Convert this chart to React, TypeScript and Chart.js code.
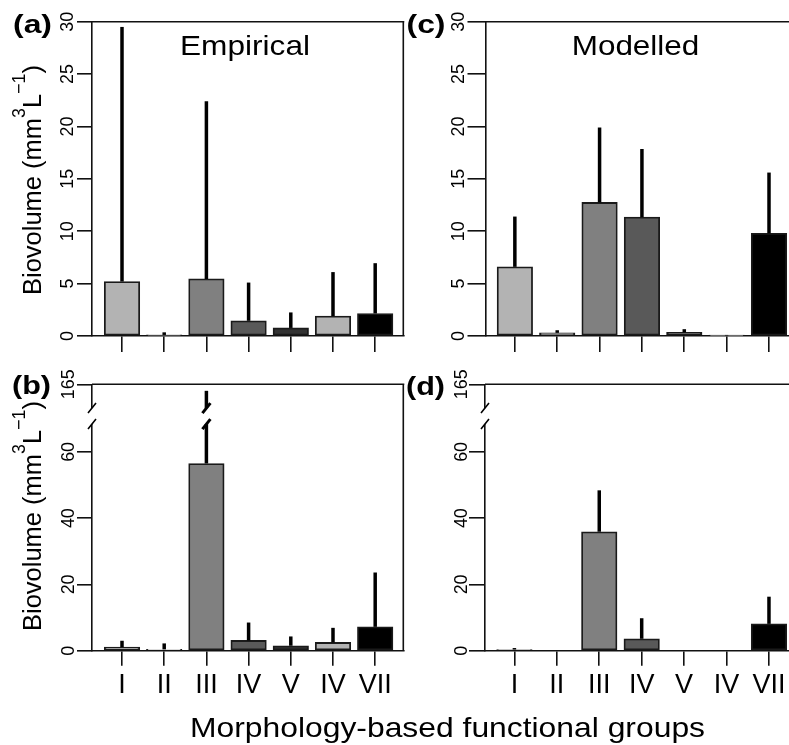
import React, { useEffect, useRef } from 'react';
import { Chart, registerables } from 'chart.js';

Chart.register(...registerables);

const W = 789;
const H = 745;
const FONT = '"Liberation Sans", Arial, Helvetica, sans-serif';

// ---------- data ----------
const groups = ['I', 'II', 'III', 'IV', 'V', 'IV', 'VII'];
const groupPositions = [1, 2, 3, 4, 5, 6, 7];
const barColors = ['#b3b3b3', '#e6e6e6', '#808080', '#595959', '#333333', '#b3b3b3', '#000000'];

// (a) Empirical, upper row
const empiricalTopMean = [5.2, 0.1, 5.45, 1.45, 0.77, 1.9, 2.15];
const empiricalTopUpper = [29.5, 0.35, 22.4, 5.1, 2.25, 6.1, 6.95];
// (c) Modelled, upper row
const modelledTopMean = [6.6, 0.3, 12.75, 11.35, 0.35, 0.05, 9.8];
const modelledTopUpper = [11.4, 0.55, 19.9, 17.85, 0.65, 0.1, 15.6];
// (b) Empirical, lower row
const empiricalBottomMean = [1.1, 0.4, 56.5, 3.1, 1.5, 2.5, 7.2];
const empiricalBottomUpper = [3.0, 2.2, 147, 8.5, 4.3, 6.9, 23.6];
// (d) Modelled, lower row
const modelledBottomMean = [0.35, 0, 35.9, 3.6, 0, 0, 8.1];
const modelledBottomUpper = [0.8, 0, 48.4, 9.8, 0, 0, 16.3];

const topTickValues = [0, 5, 10, 15, 20, 25, 30];
const topTickLabels = ['0', '5', '10', '15', '20', '25', '30'];
const bottomTickValues = [0, 20, 40, 60, 165];
const bottomTickLabels = ['0', '20', '40', '60', '165'];

// broken axis: linear up to BREAK_FROM, compressed above it
const BREAK_FROM = 70;
const BREAK_TOP = 165;
const DISPLAY_TOP = 80.4;
const BREAK_MARK = 70.8;

const toDisplay = (v: number) =>
  v <= BREAK_FROM ? v : BREAK_FROM + ((v - BREAK_FROM) * (DISPLAY_TOP - BREAK_FROM)) / (BREAK_TOP - BREAK_FROM);
const identity = (v: number) => v;

type Panel = {
  id: string;
  letter: string;
  letterX: number;
  letterY: number;
  means: number[];
  upper: number[];
  left: number;
  right: number;
  top: number;
  bottom: number;
  xMin: number;
  xMax: number;
  yMax: number;
  tickValues: number[];
  tickLabels: string[];
  broken: boolean;
  showXLabels: boolean;
  labelOffset: number;
  yTickLen: number;
  xTickLen: number;
  rightBorder: boolean;
  title?: { text: string; cx: number; width: number };
  yTitle?: { cy: number };
  xTitle?: boolean;
};

const panels: Panel[] = [
  {
    id: 'a', letter: '(a)', letterX: 13, letterY: 32.5,
    means: empiricalTopMean, upper: empiricalTopUpper,
    left: 92, right: 403.3, top: 21.7, bottom: 336,
    xMin: 0.289, xMax: 7.666, yMax: 30,
    tickValues: topTickValues, tickLabels: topTickLabels,
    broken: false, showXLabels: false, labelOffset: 19.5, yTickLen: 15, xTickLen: 16, rightBorder: true,
    title: { text: 'Empirical', cx: 245, width: 130 },
    yTitle: { cy: 180 },
  },
  {
    id: 'c', letter: '(c)', letterX: 406.5, letterY: 33,
    means: modelledTopMean, upper: modelledTopUpper,
    left: 485.5, right: 789, top: 21.7, bottom: 336,
    xMin: 0.307, xMax: 7.472, yMax: 30,
    tickValues: topTickValues, tickLabels: topTickLabels,
    broken: false, showXLabels: false, labelOffset: 21.5, yTickLen: 18, xTickLen: 16, rightBorder: false,
    title: { text: 'Modelled', cx: 635.5, width: 127.6 },
  },
  {
    id: 'b', letter: '(b)', letterX: 12, letterY: 393.5,
    means: empiricalBottomMean, upper: empiricalBottomUpper,
    left: 92, right: 403.3, top: 384.3, bottom: 650.7,
    xMin: 0.289, xMax: 7.666, yMax: DISPLAY_TOP,
    tickValues: bottomTickValues, tickLabels: bottomTickLabels,
    broken: true, showXLabels: true, labelOffset: 18, yTickLen: 15, xTickLen: 15, rightBorder: true,
    yTitle: { cy: 516 },
    xTitle: true,
  },
  {
    id: 'd', letter: '(d)', letterX: 406, letterY: 395,
    means: modelledBottomMean, upper: modelledBottomUpper,
    left: 485, right: 789, top: 384.3, bottom: 650.7,
    xMin: 0.307, xMax: 7.472, yMax: DISPLAY_TOP,
    tickValues: bottomTickValues, tickLabels: bottomTickLabels,
    broken: true, showXLabels: true, labelOffset: 18, yTickLen: 16, xTickLen: 15, rightBorder: false,
  },
];

// ---------- text helpers ----------
function drawText(
  ctx: CanvasRenderingContext2D,
  text: string,
  x: number,
  y: number,
  o: { size: number; bold?: boolean; align?: 'left' | 'center' | 'right'; width?: number; sx?: number; rotate?: boolean }
) {
  ctx.save();
  ctx.font = `${o.bold ? 'bold ' : ''}${o.size}px ${FONT}`;
  ctx.fillStyle = '#000';
  ctx.textBaseline = 'alphabetic';
  ctx.textAlign = 'left';
  const w = ctx.measureText(text).width;
  const sx = o.width ? o.width / w : o.sx ?? 1;
  const total = w * sx;
  const align = o.align ?? 'left';
  const start = align === 'center' ? -total / 2 : align === 'right' ? -total : 0;
  ctx.translate(x, y);
  if (o.rotate) ctx.rotate(-Math.PI / 2);
  ctx.scale(sx, 1);
  ctx.fillText(text, start / sx, 0);
  ctx.restore();
}

function drawYTitle(ctx: CanvasRenderingContext2D, baselineX: number, cy: number, size: number, targetLen: number) {
  const runs = [
    { t: 'Biovolume (mm', sup: false },
    { t: '3', sup: true },
    { t: 'L', sup: false },
    { t: '\u22121', sup: true },
    { t: ')', sup: false },
  ];
  const supSize = size * 0.7;
  ctx.save();
  const widths = runs.map((r) => {
    ctx.font = `${r.sup ? supSize : size}px ${FONT}`;
    return ctx.measureText(r.t).width;
  });
  const total = widths.reduce((s, v) => s + v, 0);
  const sx = targetLen / total;
  ctx.translate(baselineX, cy);
  ctx.rotate(-Math.PI / 2);
  ctx.scale(sx, 1);
  ctx.fillStyle = '#000';
  ctx.textBaseline = 'alphabetic';
  ctx.textAlign = 'left';
  let pos = -total / 2;
  runs.forEach((r, i) => {
    ctx.font = `${r.sup ? supSize : size}px ${FONT}`;
    ctx.fillText(r.t, pos, r.sup ? -size * 0.6 : 0);
    pos += widths[i];
  });
  ctx.restore();
}

// ---------- plugin ----------
function panelPlugin(p: Panel) {
  const tf = p.broken ? toDisplay : identity;
  return {
    id: 'panel-' + p.id,
    afterDatasetsDraw(chart: any) {
      const { ctx } = chart;
      const xs = chart.scales.x;
      const ys = chart.scales.y;
      ctx.save();
      ctx.strokeStyle = '#000';
      ctx.lineWidth = 3.5;
      ctx.lineCap = 'butt';
      p.means.forEach((m, i) => {
        const up = p.upper[i];
        if (!(up > m)) return;
        const x = xs.getPixelForValue(groupPositions[i]);
        ctx.beginPath();
        ctx.moveTo(x, ys.getPixelForValue(tf(m)));
        ctx.lineTo(x, ys.getPixelForValue(tf(up)));
        ctx.stroke();
      });
      ctx.restore();
    },
    afterDraw(chart: any) {
      const { ctx, chartArea } = chart;
      const xs = chart.scales.x;
      const ys = chart.scales.y;
      // box: top and right
      ctx.save();
      ctx.strokeStyle = '#111';
      ctx.lineWidth = 1.6;
      ctx.beginPath();
      ctx.moveTo(chartArea.left, chartArea.top);
      ctx.lineTo(chartArea.right + 1, chartArea.top);
      if (p.rightBorder) {
        ctx.moveTo(chartArea.right, chartArea.top);
        ctx.lineTo(chartArea.right, chartArea.bottom);
      }
      ctx.stroke();
      ctx.restore();

      // axis breaks
      if (p.broken) {
        const yc = ys.getPixelForValue(BREAK_MARK);
        const half = 8;
        const marks: { x: number; lw: number }[] = [{ x: chartArea.left, lw: 1.6 }];
        p.upper.forEach((u, i) => {
          if (u > BREAK_FROM) marks.push({ x: xs.getPixelForValue(groupPositions[i]), lw: 3 });
        });
        ctx.save();
        marks.forEach(({ x, lw }) => {
          ctx.fillStyle = '#fff';
          ctx.fillRect(x - 4, yc - half, 8, half * 2);
          ctx.strokeStyle = '#000';
          ctx.lineWidth = lw;
          ctx.beginPath();
          ctx.moveTo(x - 4, yc - half + 5);
          ctx.lineTo(x + 4, yc - half - 5);
          ctx.moveTo(x - 4, yc + half + 5);
          ctx.lineTo(x + 4, yc + half - 5);
          ctx.stroke();
        });
        ctx.restore();
      }

      // y tick labels (rotated)
      p.tickValues.forEach((v, i) => {
        drawText(ctx, p.tickLabels[i], chartArea.left - p.labelOffset, ys.getPixelForValue(tf(v)), {
          size: 17.5,
          align: 'center',
          sx: 1.02,
          rotate: true,
        });
      });

      // x tick labels
      if (p.showXLabels) {
        groups.forEach((g, i) => {
          drawText(ctx, g, xs.getPixelForValue(groupPositions[i]), 693, { size: 27, align: 'center' });
        });
      }

      // panel letter
      drawText(ctx, p.letter, p.letterX, p.letterY, { size: 26, bold: true, width: 39 });

      // panel title
      if (p.title) {
        drawText(ctx, p.title.text, p.title.cx, 55, { size: 28, align: 'center', width: p.title.width });
      }

      // y-axis title
      if (p.yTitle) drawYTitle(ctx, 40.7, p.yTitle.cy, 26.5, 230);

      // x-axis title
      if (p.xTitle) {
        drawText(ctx, 'Morphology-based functional groups', 447.5, 736.5, { size: 28.5, align: 'center', width: 515 });
      }
    },
  };
}

function makeConfig(p: Panel): any {
  const tf = p.broken ? toDisplay : identity;
  const lineCol = '#111';
  return {
    type: 'bar',
    data: {
      datasets: [
        {
          data: p.means.map((m, i) => ({ x: groupPositions[i], y: tf(m) })),
          backgroundColor: barColors,
          borderColor: '#1a1a1a',
          borderWidth: 1.8,
          borderSkipped: false,
          barThickness: 35.5,
        },
      ],
    },
    options: {
      responsive: false,
      maintainAspectRatio: false,
      animation: false,
      events: [],
      devicePixelRatio: 1,
      layout: { padding: { left: p.left, top: p.top, right: W - p.right, bottom: H - p.bottom } },
      plugins: { legend: { display: false }, tooltip: { enabled: false }, title: { display: false } },
      scales: {
        x: {
          type: 'linear',
          min: p.xMin,
          max: p.xMax,
          offset: false,
          afterFit: (s: any) => {
            s.height = 0;
          },
          afterBuildTicks: (s: any) => {
            s.ticks = groupPositions.map((v) => ({ value: v }));
          },
          ticks: { display: false },
          grid: {
            display: true,
            offset: false,
            drawOnChartArea: false,
            drawTicks: true,
            tickLength: p.xTickLen,
            color: lineCol,
            tickColor: lineCol,
            lineWidth: 1.6,
            tickWidth: 1.6,
          },
          border: { display: true, color: lineCol, width: 1.6 },
        },
        y: {
          type: 'linear',
          min: 0,
          max: p.yMax,
          afterFit: (s: any) => {
            s.width = 0;
          },
          afterBuildTicks: (s: any) => {
            s.ticks = p.tickValues.map((v) => ({ value: tf(v) }));
          },
          ticks: { display: false },
          grid: {
            display: true,
            drawOnChartArea: false,
            drawTicks: true,
            tickLength: p.yTickLen,
            color: lineCol,
            tickColor: lineCol,
            lineWidth: 1.6,
            tickWidth: 1.6,
          },
          border: { display: true, color: lineCol, width: 1.6 },
        },
      },
    },
    plugins: [panelPlugin(p)],
  };
}

export default function App() {
  const canvases = useRef<(HTMLCanvasElement | null)[]>([]);
  useEffect(() => {
    const charts = panels.map((p, i) => new Chart(canvases.current[i] as HTMLCanvasElement, makeConfig(p)));
    return () => charts.forEach((c) => c.destroy());
  }, []);
  return (
    <div style={{ position: 'absolute', left: 0, top: 0, width: W, height: H, background: '#fff', overflow: 'hidden' }}>
      {panels.map((p, i) => (
        <canvas
          key={p.id}
          ref={(el) => {
            canvases.current[i] = el;
          }}
          width={W}
          height={H}
          style={{ position: 'absolute', left: 0, top: 0, width: W, height: H }}
        />
      ))}
    </div>
  );
}
